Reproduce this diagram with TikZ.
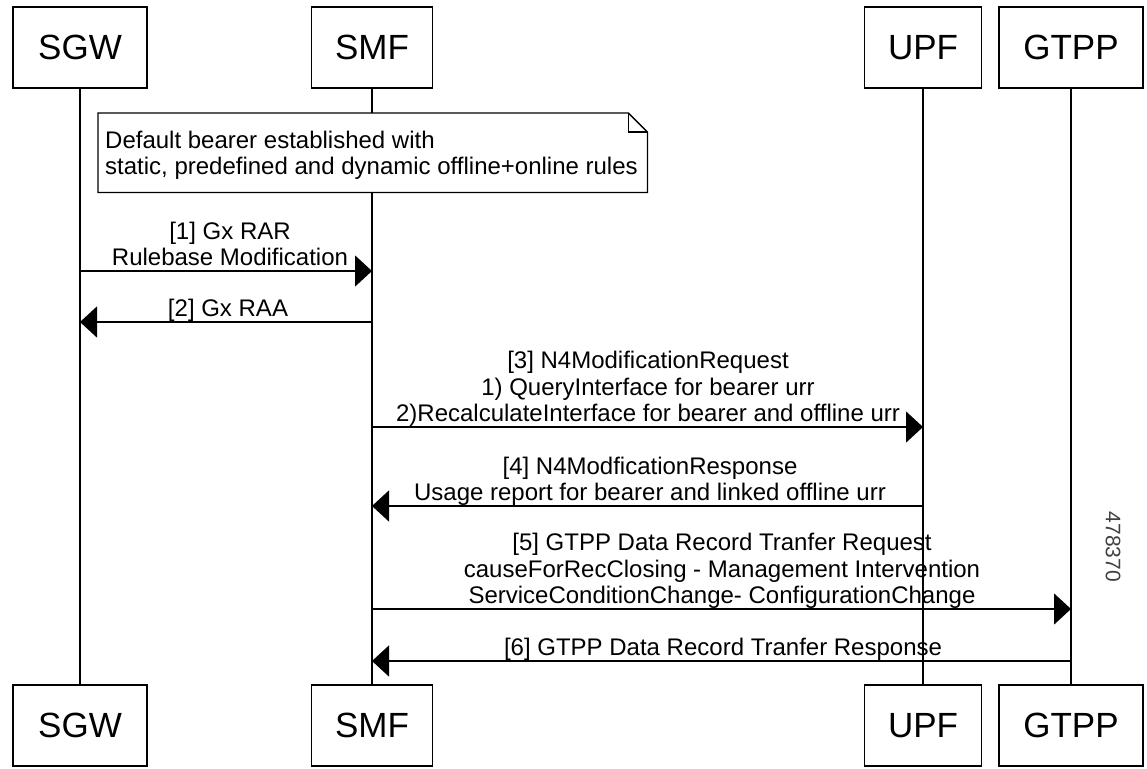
\documentclass[tikz,border=0pt]{standalone}
\usepackage{fontspec}
\setmainfont{Liberation Sans}
\usetikzlibrary{arrows.meta}
\newcommand\mydstrut{\rule[-6pt]{0pt}{6pt}}
\newcommand\myhstrut{\rule{0pt}{20pt}}
\begin{document}
\begin{tikzpicture}[x=1pt,y=-1pt,
  actor/.style={draw, line width=1.4pt, minimum height=81pt, inner sep=0pt, fill=white,
    font=\fontsize{35}{42}\selectfont},
  life/.style={line width=1.3pt},
  msg/.style={line width=1.5pt, -{Triangle[length=17pt,width=31pt]}},
  lbl/.style={font=\fontsize{24}{26.5}\selectfont, align=center, inner sep=0pt, anchor=south},
]
\useasboundingbox (0,0) rectangle (1147,768);
\fill[white] (0,0) rectangle (1147,768);
% actors top
\node[actor, minimum width=134pt] (sgwT) at (80,47.5) {SGW};
\node[actor, minimum width=121pt] (smfT) at (372,47.5) {SMF};
\node[actor, minimum width=117pt] (upfT) at (923,47.5) {UPF};
\node[actor, minimum width=144pt] (gtppT) at (1071,47.5) {GTPP};
% actors bottom
\node[actor, minimum width=134pt] (sgwB) at (80,725.5) {SGW};
\node[actor, minimum width=121pt] (smfB) at (372,725.5) {SMF};
\node[actor, minimum width=117pt] (upfB) at (923,725.5) {UPF};
\node[actor, minimum width=144pt] (gtppB) at (1071,725.5) {GTPP};
% lifelines
\draw[life] (sgwT) -- (sgwB);
\draw[life] (smfT) -- (smfB);
\draw[life] (upfT) -- (upfB);
\draw[life] (gtppT) -- (gtppB);
% note
\node[anchor=north west, minimum width=549pt, minimum height=79pt, inner sep=0pt] (note) at (98,113) {};
\draw[fill=white, line width=1.3pt] (note.south west) -- (note.north west)
  -- ([xshift=-19pt]note.north east) -- ([yshift=-19pt]note.north east)
  -- (note.south east) -- cycle;
\draw[line width=1.3pt] ([xshift=-19pt]note.north east) -- ([xshift=-19pt,yshift=-19pt]note.north east)
  -- ([yshift=-19pt]note.north east);
\node[font=\fontsize{24}{26.5}\selectfont, align=left, inner sep=0pt, anchor=north west] (notetxt) at (105,128)
  {\myhstrut Default bearer established with\\static, predefined and dynamic offline+online rules};
% message endpoints
\coordinate (m1a) at (80,271);  \coordinate (m1b) at (372,271);
\coordinate (m2a) at (372,322); \coordinate (m2b) at (80,322);
\coordinate (m3a) at (372,427); \coordinate (m3b) at (923,427);
\coordinate (m4a) at (923,506); \coordinate (m4b) at (372,506);
\coordinate (m5a) at (372,609); \coordinate (m5b) at (1071,609);
\coordinate (m6a) at (1071,661); \coordinate (m6b) at (372,661);
% messages
\draw[msg] (m1a) -- (m1b);
\draw[msg] (m2a) -- (m2b);
\draw[msg] (m3a) -- (m3b);
\draw[msg] (m4a) -- (m4b);
\draw[msg] (m5a) -- (m5b);
\draw[msg] (m6a) -- (m6b);
% labels
\node[lbl] (l1) at (230,272) {[1] Gx RAR\\Rulebase Modification\mydstrut};
\node[lbl] (l2) at (228,323) {[2] Gx RAA\mydstrut};
\node[lbl] (l3) at (648,428) {[3] N4ModificationRequest\\1) QueryInterface for bearer urr\\2)RecalculateInterface for bearer and offline urr\mydstrut};
\node[lbl] (l4) at (650,507) {[4] N4ModficationResponse\\Usage report for bearer and linked offline urr\mydstrut};
\node[lbl] (l5) at (722,610) {[5] GTPP Data Record Tranfer Request\\causeForRecClosing - Management Intervention\\ServiceConditionChange- ConfigurationChange\mydstrut};
\node[lbl] (l6) at (723,662) {[6] GTPP Data Record Tranfer Response\mydstrut};
% figure number
\node[rotate=-90, font=\fontsize{21}{24}\selectfont, text=black!75, inner sep=0pt] (fig) at (1113,547) {478370};
\end{tikzpicture}
\end{document}
